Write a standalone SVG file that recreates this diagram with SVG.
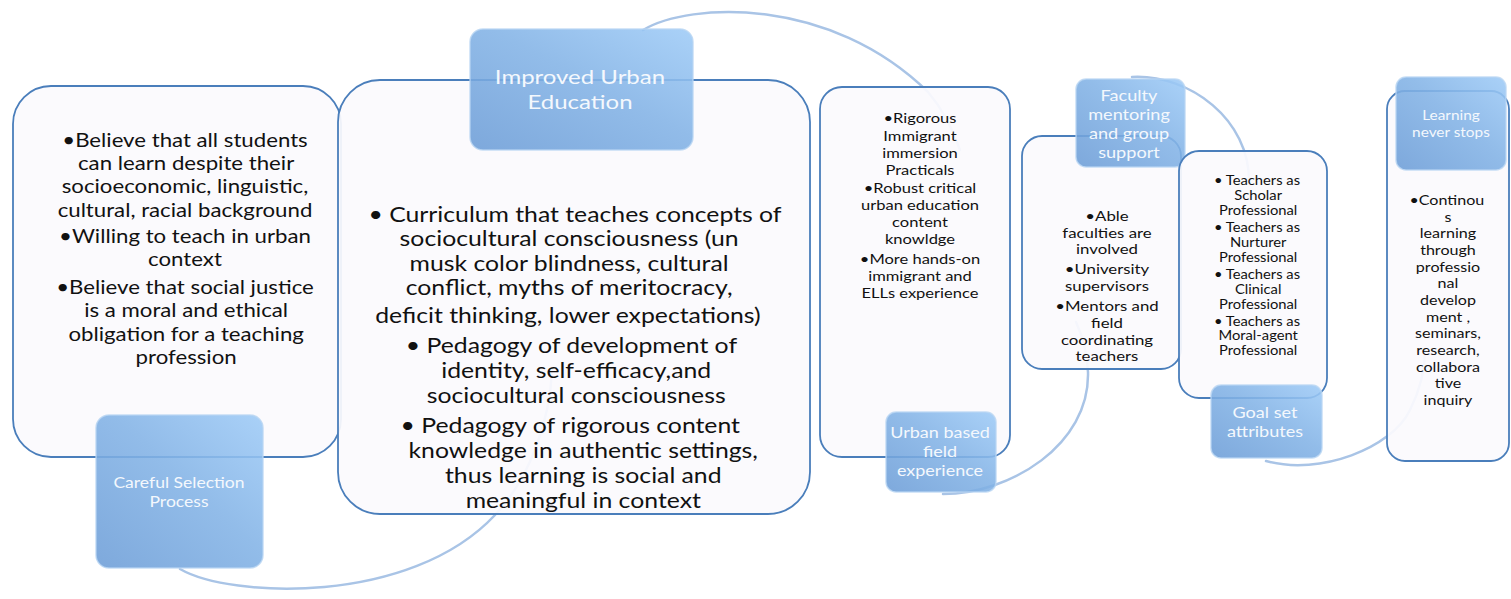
<svg xmlns="http://www.w3.org/2000/svg" width="1511" height="599" viewBox="0 0 1511 599">
<defs>
<linearGradient id="lab" x1="0" y1="1" x2="1" y2="0">
<stop offset="0" stop-color="#6c9dd7"/>
<stop offset="0.55" stop-color="#83b3e6"/>
<stop offset="1" stop-color="#9ecbf7"/>
</linearGradient>
<style>
.box{fill:#fbfafd;fill-opacity:0.93;stroke:#4a7ebb;stroke-width:1.8}
.lab{fill:url(#lab);fill-opacity:0.88;stroke:#b9d6f3;stroke-width:1.5;stroke-opacity:0.8}
.arc{fill:none;stroke:#a9c4e6;stroke-width:2.5;stroke-linecap:round}
.t{font-family:Lato,"Liberation Sans",sans-serif;fill:#111;text-anchor:middle}
.lt{font-family:Lato,"Liberation Sans",sans-serif;fill:#f4f8fd;text-anchor:middle}
</style>
</defs>
<g id="connectors">
<path class="arc" d="M180,569 C230,598 410,606 495,515 C530,478 550,420 552,370"/>
<path class="arc" d="M643,30 C690,2 830,-4 928,92 C945,112 955,135 960,150"/>
<path class="arc" d="M943,494 C1010,494 1090,445 1088,372 C1087,350 1082,335 1076,322"/>
<path class="arc" d="M1132,77 C1190,74 1250,120 1249,182"/>
<path class="arc" d="M1266,461 C1320,476 1392,448 1410,410 C1420,390 1425,370 1425,350"/>
</g>
<g id="node-careful">
<rect class="box" x="13" y="86" width="328" height="371" rx="38"/>
<g transform="matrix(1.14 0 0 1 -25.9 0)"><text class="t" font-size="19.5"><tspan x="185" y="147">•Believe that all students</tspan><tspan x="186" y="170">can learn despite their</tspan><tspan x="185" y="193">socioeconomic, linguistic,</tspan><tspan x="185" y="217">cultural, racial background</tspan><tspan x="185" y="243">•Willing to teach in urban</tspan><tspan x="185" y="266">context</tspan><tspan x="185" y="294">•Believe that social justice</tspan><tspan x="186" y="317">is a moral and ethical</tspan><tspan x="186" y="341">obligation for a teaching</tspan><tspan x="186" y="364">profession</tspan></text></g>
<rect class="lab" x="96" y="415" width="167" height="153" rx="13"/>
<g transform="matrix(1.17 0 0 1 -30.43 0)"><text class="lt" font-size="15"><tspan x="179" y="488">Careful Selection</tspan><tspan x="179" y="507">Process</tspan></text></g>
</g>
<g id="node-improved">
<rect class="box" x="338" y="80" width="472" height="434" rx="42"/>
<g transform="matrix(1.18 0 0 1 -103.5 0)"><text class="t" font-size="21"><tspan x="575" y="222">• Curriculum that teaches concepts of</tspan><tspan x="570" y="246">sociocultural consciousness (un</tspan><tspan x="570" y="271">musk color blindness, cultural</tspan><tspan x="570" y="295">conflict, myths of meritocracy,</tspan><tspan x="569" y="323">deficit thinking, lower expectations)</tspan><tspan x="572" y="353">• Pedagogy of development of</tspan><tspan x="576" y="378">identity, self-efficacy,and</tspan><tspan x="576" y="403">sociocultural consciousness</tspan><tspan x="571" y="433">• Pedagogy of rigorous content</tspan><tspan x="582" y="458">knowledge in authentic settings,</tspan><tspan x="582" y="483">thus learning is social and</tspan><tspan x="582" y="508">meaningful in context</tspan></text></g>
<rect class="lab" x="470" y="29" width="223" height="121" rx="13"/>
<g transform="matrix(1.2 0 0 1 -116 0)"><text class="lt" font-size="20"><tspan x="580" y="84">Improved Urban</tspan><tspan x="580" y="109">Education</tspan></text></g>
</g>
<g id="node-urban">
<rect class="box" x="820" y="87" width="190" height="370" rx="22"/>
<g transform="matrix(1.18 0 0 1 -165.6 0)"><text class="t" font-size="14"><tspan x="920" y="123">•Rigorous</tspan><tspan x="920" y="141">Immigrant</tspan><tspan x="920" y="158">immersion</tspan><tspan x="920" y="175">Practicals</tspan><tspan x="920" y="193">•Robust critical</tspan><tspan x="920" y="210">urban education</tspan><tspan x="920" y="227">content</tspan><tspan x="920" y="244">knowldge</tspan><tspan x="920" y="264">•More hands-on</tspan><tspan x="920" y="281">immigrant and</tspan><tspan x="920" y="298">ELLs experience</tspan></text></g>
<rect class="lab" x="886" y="412" width="110" height="80" rx="10"/>
<g transform="matrix(1.2 0 0 1 -188 0)"><text class="lt" font-size="15"><tspan x="940" y="438">Urban based</tspan><tspan x="940" y="457">field</tspan><tspan x="940" y="476">experience</tspan></text></g>
</g>
<g id="node-faculty">
<rect class="box" x="1022" y="136" width="159" height="233" rx="20"/>
<g transform="matrix(1.2 0 0 1 -221.4 0)"><text class="t" font-size="14"><tspan x="1107" y="221">•Able</tspan><tspan x="1107" y="238">faculties are</tspan><tspan x="1107" y="254">involved</tspan><tspan x="1107" y="274">•University</tspan><tspan x="1107" y="291">supervisors</tspan><tspan x="1107" y="311">•Mentors and</tspan><tspan x="1107" y="328">field</tspan><tspan x="1107" y="345">coordinating</tspan><tspan x="1107" y="361">teachers</tspan></text></g>
<rect class="lab" x="1076" y="79" width="109" height="88" rx="10"/>
<g transform="matrix(1.17 0 0 1 -191.93 0)"><text class="lt" font-size="15.5"><tspan x="1129" y="101">Faculty</tspan><tspan x="1129" y="120">mentoring</tspan><tspan x="1129" y="139">and group</tspan><tspan x="1129" y="158">support</tspan></text></g>
</g>
<g id="node-goal">
<rect class="box" x="1179" y="151" width="148" height="247" rx="20"/>
<g transform="matrix(1.18 0 0 1 -226.26 0)"><text class="t" font-size="12.5"><tspan x="1257" y="185">• Teachers as</tspan><tspan x="1258" y="200">Scholar</tspan><tspan x="1258" y="215">Professional</tspan><tspan x="1257" y="232">• Teachers as</tspan><tspan x="1258" y="247">Nurturer</tspan><tspan x="1258" y="262">Professional</tspan><tspan x="1257" y="279">• Teachers as</tspan><tspan x="1258" y="294">Clinical</tspan><tspan x="1258" y="309">Professional</tspan><tspan x="1257" y="326">• Teachers as</tspan><tspan x="1258" y="340">Moral-agent</tspan><tspan x="1258" y="355">Professional</tspan></text></g>
<rect class="lab" x="1211" y="385" width="111" height="73" rx="10"/>
<g transform="matrix(1.13 0 0 1 -164.45 0)"><text class="lt" font-size="16"><tspan x="1265" y="418">Goal set</tspan><tspan x="1265" y="437">attributes</tspan></text></g>
</g>
<g id="node-learning">
<rect class="box" x="1387" y="91" width="122" height="370" rx="18"/>
<g transform="matrix(1.15 0 0 1 -217.2 0)"><text class="t" font-size="14"><tspan x="1447" y="205">•Continou</tspan><tspan x="1448" y="222">s</tspan><tspan x="1448" y="238">learning</tspan><tspan x="1448" y="255">through</tspan><tspan x="1448" y="272">professio</tspan><tspan x="1448" y="288">nal</tspan><tspan x="1448" y="305">develop</tspan><tspan x="1448" y="322">ment ,</tspan><tspan x="1448" y="338">seminars,</tspan><tspan x="1448" y="355">research,</tspan><tspan x="1448" y="372">collabora</tspan><tspan x="1448" y="388">tive</tspan><tspan x="1448" y="405">inquiry</tspan></text></g>
<rect class="lab" x="1396" y="77" width="110" height="93" rx="10"/>
<g transform="matrix(1.1 0 0 1 -145.1 0)"><text class="lt" font-size="14"><tspan x="1451" y="120">Learning</tspan><tspan x="1451" y="137">never stops</tspan></text></g>
</g>
</svg>
